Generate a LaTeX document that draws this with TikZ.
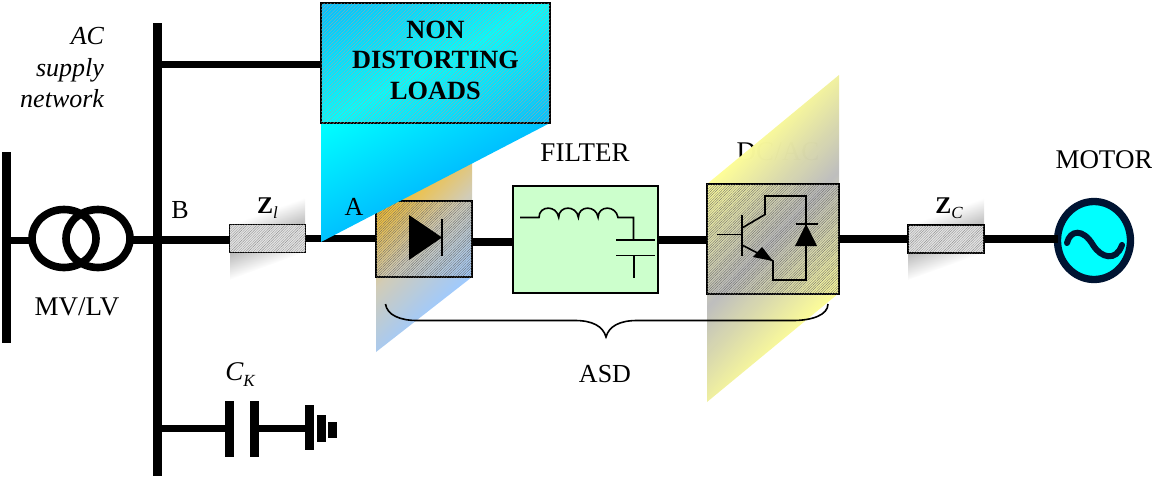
\documentclass[tikz,border=0pt]{standalone}
\usepackage{fontspec}
\setmainfont{Liberation Serif}
\usetikzlibrary{shapes.geometric,patterns.meta}
\definecolor{navyc}{RGB}{0,20,50}
\definecolor{greenc}{RGB}{204,255,204}
\definecolor{cyanc}{RGB}{0,255,255}
\pgfdeclareverticalshading{gradload}{100bp}{rgb(0bp)=(0,0.75,1);rgb(37.5bp)=(0,0.75,1);rgb(50bp)=(0,1,1);rgb(62.5bp)=(0,0.75,1);rgb(100bp)=(0,0.75,1)}
\pgfdeclareverticalshading{gradrect}{100bp}{rgb(0bp)=(0.62,0.79,1);rgb(42.86bp)=(0.62,0.79,1);rgb(50bp)=(0.82,0.80,0.72);rgb(57.14bp)=(0.98,0.74,0.10);rgb(100bp)=(0.98,0.74,0.10)}
\pgfdeclareverticalshading{gradinv}{100bp}{rgb(0bp)=(1,1,0.59);rgb(37.5bp)=(1,1,0.59);rgb(50bp)=(0.74,0.74,0.74);rgb(62.5bp)=(1,1,0.59);rgb(100bp)=(1,1,0.59)}
\pgfdeclareverticalshading{gradz}{100bp}{rgb(0bp)=(1,1,1);rgb(37.5bp)=(1,1,1);rgb(50bp)=(0.72,0.72,0.72);rgb(62.5bp)=(1,1,1);rgb(100bp)=(1,1,1)}
\newcommand{\gradpoly}[4]{\begin{scope}\clip #1 -- cycle;\shade[shift={#2},#4] (-#3,-#3) rectangle (#3,#3);\end{scope}}
\newcommand{\lowsub}[1]{\raisebox{-.22em}{\fontsize{17}{20}\selectfont\itshape #1}}
\tikzset{
  x=1pt,y=-1pt,
  every node/.style={font=\fontsize{27}{31}\selectfont,inner sep=0pt,outer sep=0pt},
  bus/.style={line width=9pt,line cap=butt},
  wire/.style={line width=8pt,line cap=butt},
  thin wire/.style={line width=7pt,line cap=butt},
  fine/.style={line width=1.6pt,line join=miter},
  boxframe/.style={draw=black,line width=1.8pt},
  hatchdark/.style={postaction={pattern={Lines[angle=45,distance=1.8pt,line width=.3pt]},pattern color=black!60}},
  zbox/.style={boxframe,minimum width=76pt,minimum height=28pt,fill=gray!22,postaction={pattern={Lines[angle=45,distance=1.8pt,line width=.25pt]},pattern color=black!50}},
}
\begin{document}
\begin{tikzpicture}
\useasboundingbox (0,0) rectangle (1152,477);

% text partly hidden behind the translucent parallelogram
\node (dcactext) at (778,152) {DC/AC};

% gradient backdrops
\gradpoly{(376,190) -- (472,140) -- (472,277) -- (376,352)}{(424,240)}{210}{shading=gradrect,shading angle=45}
\gradpoly{(707,184) -- (839,75) -- (839,293) -- (707,402)}{(773,239)}{172}{shading=gradinv,shading angle=46,fill opacity=.99}
\gradpoly{(230,225) -- (305,197) -- (305,252) -- (230,280)}{(267.5,238.5)}{52}{shading=gradz,shading angle=20}
\gradpoly{(908,225) -- (984,197) -- (984,253) -- (908,280)}{(946,239)}{52}{shading=gradz,shading angle=20}

% bars and junctions
\coordinate (busAtop) at (6.5,152);
\coordinate (busAbot) at (6.5,343);
\coordinate (busBtop) at (157.5,23);
\coordinate (busBbot) at (157.5,476);
\coordinate (busBload) at (157.5,64.5);
\coordinate (busBcap) at (157.5,428);
\coordinate (busBline) at (157.5,240);
\coordinate (busAline) at (6.5,240);
\draw[bus] (busAtop) -- (busAbot);
\draw[bus] (busBtop) -- (busBbot);

% nodes on the main line
\node[zbox] (zl) at (267.5,238.5) {};
\node[zbox] (zc) at (946,239) {};
\node[boxframe,minimum width=96pt,minimum height=76pt,hatchdark] (rect) at (424,239) {};
\node[boxframe,minimum width=145pt,minimum height=107pt,fill=greenc] (filter) at (585.5,239.5) {};
\node[boxframe,minimum width=132pt,minimum height=110pt,hatchdark] (inv) at (773,239) {};
\node[draw=navyc,line width=7.3pt,ellipse,fill=cyanc,minimum width=73pt,minimum height=78pt] (motor) at (1094,240.5) {};
\draw[navyc,line width=6pt,line cap=round] (1067,243) .. controls (1070,230) and (1083,228) .. (1093,245) .. controls (1101,258) and (1116,262) .. (1122,245);

% connections
\draw[thin wire] (zl.east) -- (zl.east -| rect.west);
\coordinate (rectout) at (472,241.5);
\draw[wire] (rectout) -- (rectout -| filter.west);
\draw[wire] (filter.east) -- (filter.east -| inv.west);
\draw[wire] (inv.east) -- (inv.east -| zc.west);
\draw[wire] (zc.east) -- (zc.east -| motor.west);
\draw[wire] (busBline) -- (busBline -| zl.west);

% transformer
\node[draw=black,line width=7.6pt,ellipse,minimum width=64pt,minimum height=58pt] (tr1) at (64,238.5) {};
\node[draw=black,line width=7.6pt,ellipse,minimum width=64pt,minimum height=58pt] (tr2) at (98,238.5) {};
\draw[thin wire] (busAline) -- (busAline -| tr1.west);
\draw[wire] (busBline -| tr2.east) -- (busBline);

% rectifier symbol
\coordinate (dA) at (409,215);
\coordinate (dB) at (409,260);
\coordinate (dC) at (442,237.5);
\fill (dA) -- (dB) -- (dC) -- cycle;
\coordinate (dbarT) at (442,218.5);
\coordinate (dbarB) at (442,256);
\draw[line width=2pt] (dbarT) -- (dbarB);

% load shape and box
\gradpoly{(321,3) -- (550,3) -- (550,123) -- (321,242)}{(435,64)}{214}{shading=gradload,shading angle=28}
\node[boxframe,minimum width=229pt,minimum height=120pt,
  postaction={pattern={Lines[angle=45,distance=2.4pt,line width=.3pt]},pattern color=black!35}] (loads) at (435.5,63) {};
\node[align=center,font=\fontsize{26.3}{30.5}\selectfont\bfseries] (loadstext) at (435.5,60) {NON\\DISTORTING\\LOADS};
\draw[thin wire] (busBload) -- (busBload -| loads.west);

% capacitor
\coordinate (capL) at (229,428);
\coordinate (capLa) at (229,401);
\coordinate (capLb) at (229,457);
\coordinate (capR) at (254,428);
\coordinate (capRa) at (254,401);
\coordinate (capRb) at (254,457);
\draw[bus] (capLa) -- (capLb);
\draw[bus] (capRa) -- (capRb);
\draw[thin wire] (busBcap) -- (capL);
\coordinate (gnd1) at (309.5,428);
\draw[thin wire] (capR) -- (gnd1);
\draw[bus] (309.5,405) -- (309.5,450);
\draw[bus] (321.5,415) -- (321.5,442);
\draw[bus] (332.5,422) -- (332.5,438);

% filter symbols
\draw[fine] (520,217.5) -- (539,217.5)
  .. controls (539,205) and (557,205) .. (558.7,217.5)
  .. controls (558.7,205) and (576.7,205) .. (578.4,217.5)
  .. controls (578.4,205) and (596.4,205) .. (598.1,217.5)
  .. controls (598.1,205) and (616.1,205) .. (618,217.5)
  -- (633.5,217.5) -- (633.5,240);
\draw[fine] (616,240) -- (655,240);
\draw[fine] (616,255.5) -- (655,255.5);
\draw[fine] (634,255.5) -- (634,278);

% inverter symbols
\draw[fine] (717,234.5) -- (741.5,234.5);
\draw[line width=2pt] (741.5,215) -- (741.5,256);
\draw[fine] (742,228) -- (765,214.5) -- (765,196) -- (806,196) -- (806,246);
\draw[fine] (796,224) -- (818,224);
\fill (806,224) -- (795,246) -- (817,246) -- cycle;
\draw[fine] (806,246) -- (806,280) -- (773,280) -- (773,261) -- (742,245);
\fill (753,257) -- (762,247) -- (773,261) -- cycle;

% brace
\coordinate (brL) at (385.5,304);
\coordinate (brLj) at (417,320.5);
\coordinate (brM) at (606,337);
\coordinate (brR) at (828,304);
\coordinate (brRj) at (793,320.5);
\coordinate (brMl) at (575,320.5);
\coordinate (brMr) at (637,320.5);
\draw[fine] (brL) .. controls (387,315) and (400,320.5) .. (brLj) -- (brMl) .. controls (592,320.5) and (603,326) .. (brM) .. controls (609,326) and (620,320.5) .. (brMr) -- (brRj) .. controls (812,320.5) and (828,315) .. (brR);

% labels
\node[align=right,anchor=east,font=\fontsize{26}{31.5}\selectfont\itshape] (aclabel) at (104,68) {AC\\supply\\network};
\node[font=\fontsize{26}{31}\selectfont] (blabel) at (180,210) {B};
\node[font=\fontsize{26}{31}\selectfont] (alabel) at (354,207) {A};
\node (mvlv) at (77,307) {MV/LV};
\node (filterlabel) at (585,153) {FILTER};
\node (motorlabel) at (1104,160) {MOTOR};
\node[font=\fontsize{26}{31}\selectfont] (asd) at (605,374) {ASD};
\node[font=\fontsize{24}{28}\selectfont] (zllabel) at (267.5,208) {\textbf{Z}\lowsub{l}};
\node[font=\fontsize{24}{28}\selectfont] (zclabel) at (949,208) {\textbf{Z}\lowsub{C}};
\node (cklabel) at (240,375) {\itshape C\lowsub{K}};
\end{tikzpicture}
\end{document}
